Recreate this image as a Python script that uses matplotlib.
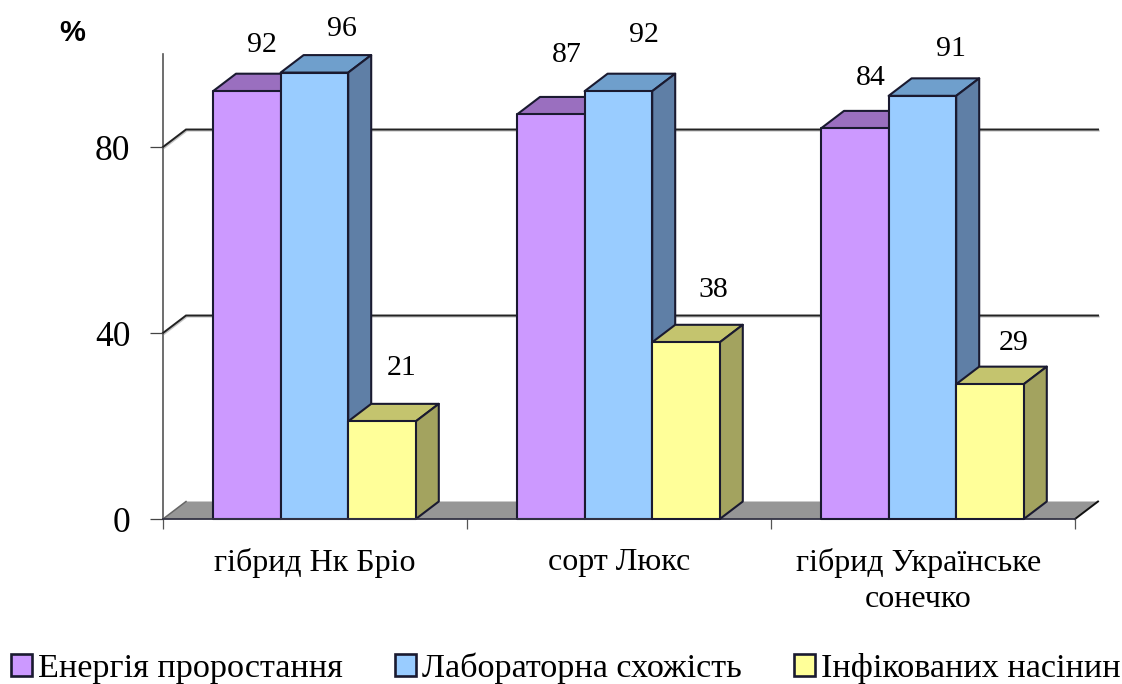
import matplotlib
matplotlib.use("Agg")
import matplotlib.pyplot as plt
import matplotlib.patheffects as pe
from matplotlib.patches import Polygon, Rectangle

categories = ["гібрид Нк Бріо", "сорт Люкс", "гібрид Українське\nсонечко"]
series_names = ["Енергія проростання", "Лабораторна схожість", "Інфікованих насінин"]
energy = [92, 87, 84]
lab = [96, 92, 91]
infected = [21, 38, 29]
y_ticks = [0, 40, 80]
series = [energy, lab, infected]

front = ["#CC99FF", "#99CCFF", "#FFFF99"]
top = ["#9A6FBF", "#6F9FCC", "#C4C46E"]
side = ["#7F5AA0", "#5F7FA6", "#A3A35F"]
edge = "#1A1A30"
label_offsets = [[(15, 46), (28, 44), (20, 53)],
                 [(16, 59), (26, 56), (27, 52)],
                 [(16, 50), (29, 47), (24, 41)]]

W, H = 1122, 684
fig = plt.figure(figsize=(W / 100, H / 100), dpi=100, facecolor="white")
plt.rcParams["font.family"] = ["Liberation Serif", "DejaVu Serif"]
x0, x1, y0, y1 = 163, 1075, 519, 54
ax = fig.add_axes([x0 / W, 1 - y0 / H, (x1 - x0) / W, (y0 - y1) / H])
ax.set_xlim(0, 3)
ax.set_ylim(0, 100)
ax.patch.set_visible(False)
px_x = 3 / (x1 - x0)
px_y = 100 / (y0 - y1)
dx, dv = 23 * px_x, 17.5 * px_y
bar_w = 67.6 * px_x
gap = 50 * px_x

for s in ("top", "right"):
    ax.spines[s].set_visible(False)
ax.spines["left"].set_color("#555555")
ax.spines["left"].set_linewidth(1.2)
ax.spines["bottom"].set_color("#333344")
ax.spines["bottom"].set_linewidth(1.3)
ax.spines["left"].set_zorder(1)

ax.set_yticks(y_ticks)
ax.tick_params(axis="y", length=9.5, width=0.9, color="#444444", labelsize=25.5, pad=14)
ax.set_xticks([0, 1, 2, 3])
ax.set_xticks([0.5, 1.5, 2.485], minor=True)
ax.set_xticklabels([])
ax.set_xticklabels(categories, minor=True, fontsize=23, linespacing=1.32)
ax.tick_params(axis="x", which="major", length=7, width=0.9, color="#555555")
ax.tick_params(axis="x", which="minor", length=0, pad=21)

shadow = [pe.SimpleLineShadow(offset=(0.6, -0.8), shadow_color="#888888", alpha=0.5), pe.Normal()]

# floor
ax.add_patch(Polygon([(0, 0), (3, 0), (3 + dx, dv), (dx, dv)], closed=True, fc="#969696",
                     ec="none", clip_on=False, zorder=1))
ax.plot([0, dx], [0, dv], color="#666666", lw=1.1, clip_on=False, zorder=1.1)
ax.plot([3, 3 + dx], [0, dv], color="#111111", lw=1.4, clip_on=False, zorder=1.1)
# wall gridlines
for v in y_ticks[1:]:
    ax.plot([0, dx, 3 + dx], [v, v + dv, v + dv], color="#222222", lw=1.4,
            clip_on=False, zorder=1.2, solid_joinstyle="miter", path_effects=shadow)

z = 2.0
for c in range(len(categories)):
    for i, vals in enumerate(series):
        v = vals[c]
        a = c + gap + i * bar_w
        b = a + bar_w
        style = dict(closed=True, ec=edge, lw=1.5, clip_on=False, joinstyle="round")
        ax.add_patch(Polygon([(a, v), (b, v), (b + dx, v + dv), (a + dx, v + dv)],
                             fc=top[i], zorder=z, **style))
        ax.add_patch(Polygon([(b, 0), (b + dx, dv), (b + dx, v + dv), (b, v)],
                             fc=side[i], zorder=z, **style))
        ax.add_patch(Polygon([(a, 0), (b, 0), (b, v), (a, v)],
                             fc=front[i], zorder=z + 0.01, **style))
        z += 0.1
        ox, oy = label_offsets[c][i]
        ax.annotate(str(v), xy=((a + b) / 2, v), xytext=(ox * 0.72, oy * 0.72),
                    textcoords="offset points", ha="center", va="center",
                    fontsize=21.5, color="black", zorder=10, annotation_clip=False)

fig.text(72 / W, 1 - 33 / H, "%", family="Liberation Sans", weight="bold", fontsize=21,
         ha="center", va="center")

handles = [Rectangle((0, 0), 1, 1, fc=f, ec=edge, lw=1.9) for f in front]
leg = fig.legend(handles, series_names, ncol=3, loc="lower left",
                 bbox_to_anchor=(11 / W, 1 - 684 / H), frameon=False, fontsize=24.6,
                 handlelength=0.6, handleheight=0.6, handletextpad=0.2,
                 columnspacing=1.52, borderaxespad=0, borderpad=0.0)

fig.savefig("out.png", dpi=100)
